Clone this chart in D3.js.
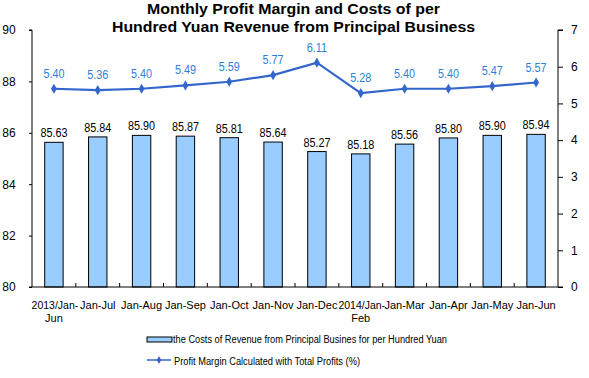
<!DOCTYPE html>
<html>
<head>
<meta charset="utf-8">
<script src="https://cdn.jsdelivr.net/npm/d3@7"></script>
<style>
  body { margin: 0; background: #fff; }
  svg text { font-family: "Liberation Sans", Arial, sans-serif; }
</style>
</head>
<body>
<svg width="589" height="378"></svg>
<script>
// data
let categories = ["2013/Jan-Jun", "Jan-Jul", "Jan-Aug", "Jan-Sep", "Jan-Oct", "Jan-Nov",
    "Jan-Dec", "2014/Jan-Feb", "Jan-Mar", "Jan-Apr", "Jan-May", "Jan-Jun"];
let costs = [85.63, 85.84, 85.90, 85.87, 85.81, 85.64, 85.27, 85.18, 85.56, 85.80, 85.90, 85.94];
let margin = [5.40, 5.36, 5.40, 5.49, 5.59, 5.77, 6.11, 5.28, 5.40, 5.40, 5.47, 5.57];
let leftTicks = [80, 82, 84, 86, 88, 90];
let rightTicks = [0, 1, 2, 3, 4, 5, 6, 7];

let svg = d3.select("svg");
let pLeft = 32, pRight = 558, pTop = 30, pBottom = 287;

let x = d3.scaleBand().domain(categories).range([pLeft, pRight]);
let yL = d3.scaleLinear().domain([80, 90]).range([pBottom, pTop]);
let yR = d3.scaleLinear().domain([0, 7]).range([pBottom, pTop]);

// squeeze a text to a fraction of its natural width
function squeeze(sel, f) {
    sel.each(function () {
        let len = this.getComputedTextLength();
        d3.select(this).attr("textLength", len * f).attr("lengthAdjust", "spacingAndGlyphs");
    });
}

// title
svg.append("text").attr("x", 293.5).attr("y", 13.5).attr("text-anchor", "middle")
    .attr("font-size", 14).attr("font-weight", "bold")
    .attr("textLength", 293).attr("lengthAdjust", "spacingAndGlyphs")
    .text("Monthly Profit Margin and Costs of per");
svg.append("text").attr("x", 293.5).attr("y", 32).attr("text-anchor", "middle")
    .attr("font-size", 14).attr("font-weight", "bold")
    .attr("textLength", 363).attr("lengthAdjust", "spacingAndGlyphs")
    .text("Hundred Yuan Revenue from Principal Business");

// bars
let bw = x.bandwidth() * 0.42;
svg.append("g").selectAll("rect")
    .data(costs)
    .enter().append("rect")
    .attr("x", function (d, i) { return x(categories[i]) + x.bandwidth() / 2 - bw / 2; })
    .attr("y", function (d) { return yL(d); })
    .attr("width", bw)
    .attr("height", function (d) { return pBottom - yL(d); })
    .attr("fill", "#99ccff")
    .attr("stroke", "#000")
    .attr("stroke-width", 1);

svg.append("g").selectAll("text")
    .data(costs)
    .enter().append("text")
    .attr("x", function (d, i) { return x(categories[i]) + x.bandwidth() / 2; })
    .attr("y", function (d) { return yL(d) - 5; })
    .attr("text-anchor", "middle")
    .attr("font-size", 12)
    .attr("fill", "#000")
    .text(function (d) { return d.toFixed(2); })
    .call(squeeze, 0.9);

// axes
let axisL = d3.axisLeft(yL).tickValues(leftTicks).tickSize(3).tickPadding(6);
let axisR = d3.axisRight(yR).tickValues(rightTicks).tickFormat(d3.format("d"))
    .tickSize(5).tickPadding(8);

let gL = svg.append("g").attr("transform", "translate(" + pLeft + ",0)").call(axisL);
let gR = svg.append("g").attr("transform", "translate(" + pRight + ",0)").call(axisR);
[gL, gR].forEach(function (g) {
    g.select(".domain").attr("stroke", "#000");
    g.selectAll("line").attr("stroke", "#000");
    g.selectAll("text").attr("font-size", 12).attr("fill", "#000")
        .style("font-family", "Liberation Sans, Arial, sans-serif");
});
gL.select(".domain").attr("d", "M-3," + pTop + "H0V" + pBottom + "H-3");
gR.select(".domain").attr("d", "M5," + pTop + "H0V" + pBottom + "H5");
gL.selectAll("text").attr("x", -23).attr("text-anchor", "middle");

// x axis
svg.append("line").attr("x1", pLeft).attr("x2", pRight).attr("y1", pBottom).attr("y2", pBottom)
    .attr("stroke", "#000");
svg.append("g").selectAll("line")
    .data(categories.slice(1))
    .enter().append("line")
    .attr("x1", function (d) { return x(d); })
    .attr("x2", function (d) { return x(d); })
    .attr("y1", pBottom).attr("y2", pBottom - 4)
    .attr("stroke", "#000");

// category labels; the year ones wrap after "Jan-"
let xg = svg.append("g");
categories.forEach(function (d) {
    let cx = x(d) + x.bandwidth() / 2;
    let m = d.match(/^(\d{4}\/Jan-)(.*)$/);
    let lines = m ? [m[1], m[2]] : [d];
    lines.forEach(function (s, j) {
        xg.append("text")
            .attr("x", cx + (m && j === 0 ? 1 : 0))
            .attr("y", 308.5 + j * 13)
            .attr("text-anchor", "middle")
            .attr("font-size", m && j === 0 ? 10.5 : 11)
            .attr("fill", "#000")
            .text(s);
    });
});

// line
let lineColor = "#3366cc";
let line = d3.line()
    .x(function (d, i) { return x(categories[i]) + x.bandwidth() / 2; })
    .y(function (d) { return yR(d); });
svg.append("path").datum(margin)
    .attr("d", line)
    .attr("fill", "none")
    .attr("stroke", lineColor)
    .attr("stroke-width", 2.2);
svg.append("g").selectAll("path")
    .data(margin)
    .enter().append("path")
    .attr("d", d3.symbol().type(d3.symbolDiamond).size(30))
    .attr("transform", function (d, i) {
        return "translate(" + (x(categories[i]) + x.bandwidth() / 2) + "," + yR(d) + ")";
    })
    .attr("fill", lineColor);
svg.append("g").selectAll("text")
    .data(margin)
    .enter().append("text")
    .attr("x", function (d, i) { return x(categories[i]) + x.bandwidth() / 2; })
    .attr("y", function (d) { return yR(d) - 11; })
    .attr("text-anchor", "middle")
    .attr("font-size", 12)
    .attr("fill", "#2f7fd8")
    .text(function (d) { return d.toFixed(2); })
    .call(squeeze, 0.9);

// legend
svg.append("rect").attr("x", 147).attr("y", 337).attr("width", 25).attr("height", 5)
    .attr("fill", "#99ccff").attr("stroke", "#000");
svg.append("text").attr("x", 173).attr("y", 343).attr("font-size", 10)
    .attr("textLength", 274).attr("lengthAdjust", "spacingAndGlyphs")
    .text("the Costs of Revenue from Principal Busines for per Hundred  Yuan");
svg.append("line").attr("x1", 147).attr("x2", 171).attr("y1", 360).attr("y2", 360)
    .attr("stroke", lineColor).attr("stroke-width", 1.5);
svg.append("path").attr("d", d3.symbol().type(d3.symbolDiamond).size(18))
    .attr("transform", "translate(159,360)").attr("fill", lineColor);
svg.append("text").attr("x", 174).attr("y", 365).attr("font-size", 10)
    .attr("textLength", 186).attr("lengthAdjust", "spacingAndGlyphs")
    .text("Profit Margin Calculated with Total Profits (%)");
</script>
</body>
</html>
